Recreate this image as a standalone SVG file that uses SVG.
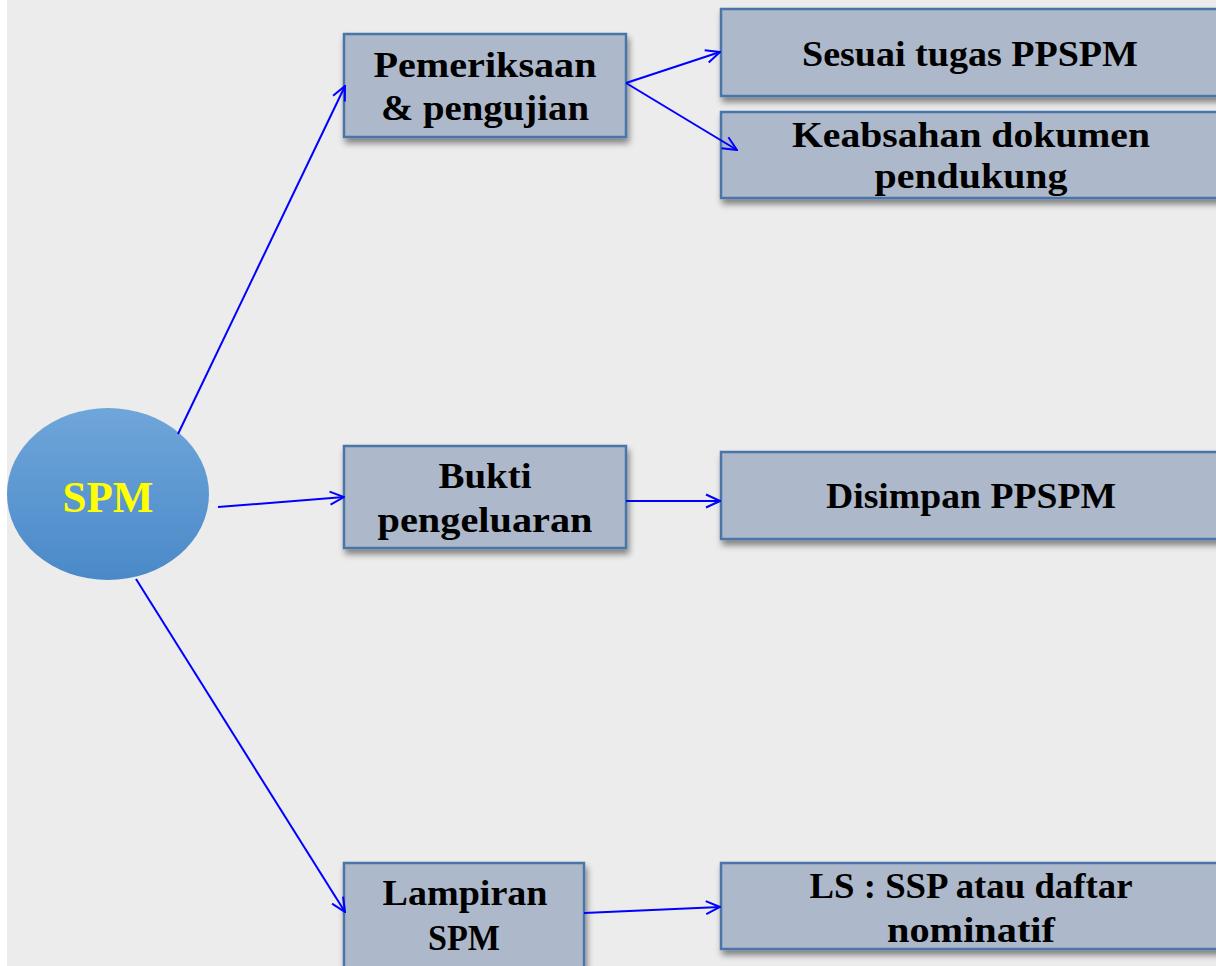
<svg xmlns="http://www.w3.org/2000/svg" width="1216" height="966" viewBox="0 0 1216 966">
<style>
.box{fill:#adb9ca;stroke:#4a76a6;stroke-width:2.5;filter:url(#sh)}
.t{font-family:"Liberation Serif","Times New Roman",serif;font-weight:bold;font-size:36px;fill:#000;text-anchor:middle}
.c{stroke:#0000ff;stroke-width:2;fill:none;marker-end:url(#ah)}
</style>
<defs>
<filter id="sh" x="-10%" y="-20%" width="130%" height="160%">
<feDropShadow dx="2" dy="5" stdDeviation="3" flood-color="#000" flood-opacity="0.45"/>
</filter>
<linearGradient id="eg" x1="0" y1="0" x2="0" y2="1">
<stop offset="0" stop-color="#6fa6da"/>
<stop offset="1" stop-color="#4a89c8"/>
</linearGradient>
<marker id="ah" viewBox="0 0 16 16" refX="15" refY="8" markerWidth="16" markerHeight="16" markerUnits="userSpaceOnUse" orient="auto">
<path d="M1,1.5 L15,8 L1,14.5" fill="none" stroke="#0000ff" stroke-width="2"/>
</marker>
</defs>
<rect x="0" y="0" width="1216" height="966" fill="#ffffff"/>
<rect x="7" y="0" width="1209" height="966" fill="#ececec"/>
<g id="spm">
<ellipse cx="108" cy="494" rx="101" ry="86" fill="url(#eg)"/>
<text x="108" y="512" font-family="Liberation Serif,serif" font-weight="bold" font-size="44" fill="#ffff00" text-anchor="middle" textLength="91" lengthAdjust="spacingAndGlyphs">SPM</text>
</g>
<g id="pemeriksaan">
<rect class="box" x="344" y="34" width="282" height="103"/>
<text class="t" x="485" y="77" textLength="223" lengthAdjust="spacingAndGlyphs">Pemeriksaan</text>
<text class="t" x="485" y="120" textLength="208" lengthAdjust="spacingAndGlyphs">&amp; pengujian</text>
</g>
<g id="sesuai">
<rect class="box" x="721" y="9" width="500" height="87"/>
<text class="t" x="970" y="66" textLength="336" lengthAdjust="spacingAndGlyphs">Sesuai tugas PPSPM</text>
</g>
<g id="keabsahan">
<rect class="box" x="721" y="112" width="500" height="86"/>
<text class="t" x="971" y="147" textLength="358" lengthAdjust="spacingAndGlyphs">Keabsahan dokumen</text>
<text class="t" x="971" y="188" textLength="193" lengthAdjust="spacingAndGlyphs">pendukung</text>
</g>
<g id="bukti">
<rect class="box" x="344" y="446" width="282" height="102"/>
<text class="t" x="485" y="488" textLength="93" lengthAdjust="spacingAndGlyphs">Bukti</text>
<text class="t" x="485" y="532" textLength="215" lengthAdjust="spacingAndGlyphs">pengeluaran</text>
</g>
<g id="disimpan">
<rect class="box" x="721" y="452" width="500" height="87"/>
<text class="t" x="971" y="508" textLength="290" lengthAdjust="spacingAndGlyphs">Disimpan PPSPM</text>
</g>
<g id="lampiran">
<rect class="box" x="344" y="863" width="240" height="110"/>
<text class="t" x="465" y="905" textLength="165" lengthAdjust="spacingAndGlyphs">Lampiran</text>
<text class="t" x="464" y="950" textLength="72" lengthAdjust="spacingAndGlyphs">SPM</text>
</g>
<g id="ls">
<rect class="box" x="721" y="863" width="500" height="86"/>
<text class="t" x="971" y="898" textLength="323" lengthAdjust="spacingAndGlyphs">LS : SSP atau daftar</text>
<text class="t" x="971" y="942" textLength="168" lengthAdjust="spacingAndGlyphs">nominatif</text>
</g>
<g id="connectors">
<line class="c" x1="178" y1="434" x2="345" y2="86"/>
<line class="c" x1="218" y1="507" x2="344" y2="497"/>
<line class="c" x1="136" y1="579" x2="345" y2="912"/>
<line class="c" x1="626" y1="83" x2="720" y2="52"/>
<line class="c" x1="626" y1="83" x2="737" y2="150"/>
<line class="c" x1="626" y1="501" x2="720" y2="501"/>
<line class="c" x1="584" y1="913" x2="720" y2="907"/>
</g>
</svg>
